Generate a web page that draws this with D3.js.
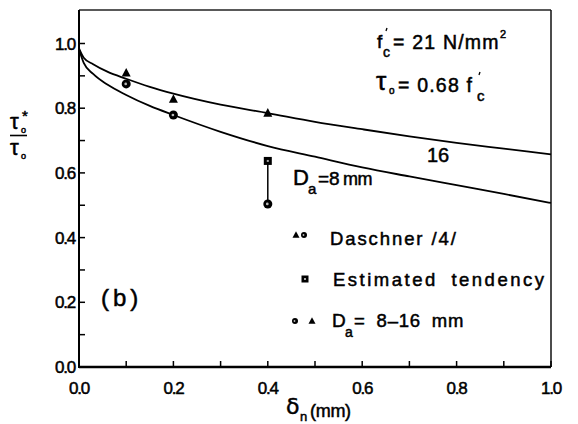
<!DOCTYPE html>
<html>
<head>
<meta charset="utf-8">
<script src="https://cdn.jsdelivr.net/npm/d3@7"></script>
<style>
  html, body { margin: 0; padding: 0; background: #fff; }
  svg { display: block; }
  text { font-family: "Liberation Sans", Arial, sans-serif; fill: #000; stroke: #000; stroke-width: 0.5; }
  .greek { font-family: "DejaVu Sans", sans-serif; }
</style>
</head>
<body>
<svg id="chart" width="578" height="424"></svg>
<script>
// Axis ticks
const xMajorTicks = [0, 0.2, 0.4, 0.6, 0.8, 1.0];
const xMinorTicks = [0.1, 0.3, 0.5, 0.7, 0.9];
const xTickLabels = ["0.0", "0.2", "0.4", "0.6", "0.8", "1.0"];
const yMajorTicks = [0, 0.2, 0.4, 0.6, 0.8, 1.0];
const yMinorTicks = [0.1, 0.3, 0.5, 0.7, 0.9];
const yTickLabels = ["0.0", "0.2", "0.4", "0.6", "0.8", "1.0"];

// Tendency curves (slip δn in mm -> τo*/τo), for Da = 16 mm and Da = 8 mm
const curveX  = [0, 0.01, 0.03, 0.06, 0.1, 0.15, 0.2, 0.3, 0.4, 0.5, 0.6, 0.7, 0.8, 0.9, 1.0];
const curve16 = [0.985, 0.956, 0.936, 0.913, 0.891, 0.866, 0.845, 0.811, 0.785, 0.758, 0.735, 0.713, 0.693, 0.675, 0.657];
const curve8  = [0.982, 0.940, 0.906, 0.873, 0.841, 0.807, 0.779, 0.727, 0.683, 0.650, 0.617, 0.589, 0.562, 0.535, 0.507];

// Test results, Daschner /4/
const triX = [0.1, 0.2, 0.4];
const triY = [0.909, 0.828, 0.785];   // Da = 16 mm
const cirX = [0.1, 0.2, 0.4];
const cirY = [0.875, 0.779, 0.504];   // Da = 8 mm
// Estimated tendency
const sqX = [0.4];
const sqY = [0.637];

const svg = d3.select("#chart");
const x = d3.scaleLinear().domain([0, 1]).range([79, 551]);
const y = d3.scaleLinear().domain([0, 1]).range([367, 43.5]);
const yTop = 10;

// Frame
svg.append("line").attr("x1", x(0)).attr("x2", x(1)).attr("y1", yTop).attr("y2", yTop)
  .attr("stroke", "#222").attr("stroke-width", 1.3);
svg.append("line").attr("x1", x(1)).attr("x2", x(1)).attr("y1", yTop).attr("y2", y(0))
  .attr("stroke", "#111").attr("stroke-width", 1.5);

// Axes with inward ticks
const tickLen = 6;
const xAxis = svg.append("g");
xAxis.append("line").attr("x1", x(0)).attr("x2", x(1)).attr("y1", y(0)).attr("y2", y(0))
  .attr("stroke", "#000").attr("stroke-width", 2.6);
xAxis.selectAll("line.tk").data(xMajorTicks.concat(xMinorTicks)).join("line")
  .attr("class", "tk")
  .attr("x1", d => x(d)).attr("x2", d => x(d))
  .attr("y1", y(0)).attr("y2", y(0) - tickLen)
  .attr("stroke", "#000").attr("stroke-width", 1.5);
xAxis.selectAll("text").data(xMajorTicks).join("text")
  .attr("x", d => x(d)).attr("y", 394)
  .attr("text-anchor", "middle")
  .attr("font-size", 17).attr("letter-spacing", -1.2)
  .text((d, i) => xTickLabels[i]);

const yAxis = svg.append("g");
yAxis.append("line").attr("x1", x(0)).attr("x2", x(0)).attr("y1", yTop).attr("y2", y(0) + 1)
  .attr("stroke", "#000").attr("stroke-width", 2);
yAxis.selectAll("line.tk").data(yMajorTicks.concat(yMinorTicks)).join("line")
  .attr("class", "tk")
  .attr("x1", x(0)).attr("x2", x(0) + tickLen)
  .attr("y1", d => y(d)).attr("y2", d => y(d))
  .attr("stroke", "#000").attr("stroke-width", 1.5);
yAxis.selectAll("text").data(yMajorTicks).join("text")
  .attr("x", 75).attr("y", d => y(d) + 6)
  .attr("text-anchor", "end")
  .attr("font-size", 17).attr("letter-spacing", -1.2)
  .text((d, i) => yTickLabels[i]);

// Curves
const line = d3.line().x(d => x(d[0])).y(d => y(d[1])).curve(d3.curveMonotoneX);
[curve16, curve8].forEach(c => {
  svg.append("path")
    .attr("d", line(curveX.map((v, i) => [v, c[i]])))
    .attr("fill", "none").attr("stroke", "#000").attr("stroke-width", 1.8);
});

// Marker helpers
function triangle(g, cx, cy, s) {
  g.append("path")
    .attr("d", `M${cx},${cy - s * 0.55}L${cx + s * 0.5},${cy + s * 0.4}L${cx - s * 0.5},${cy + s * 0.4}Z`)
    .attr("fill", "#000");
}
function dotCircle(g, cx, cy, r) {
  g.append("circle").attr("cx", cx).attr("cy", cy).attr("r", r).attr("fill", "#000");
  g.append("circle").attr("cx", cx - 0.5).attr("cy", cy).attr("r", r * 0.3).attr("fill", "#bbb");
}
function dotSquare(g, cx, cy, s) {
  g.append("rect").attr("x", cx - s / 2).attr("y", cy - s / 2).attr("width", s).attr("height", s).attr("fill", "#000");
  g.append("rect").attr("x", cx - 1).attr("y", cy - 1).attr("width", 2).attr("height", 2).attr("fill", "#aaa");
}
// Prime mark drawn as a short tick
function prime(g, px, py) {
  g.append("line").attr("x1", px + 1).attr("y1", py).attr("x2", px).attr("y2", py + 3)
    .attr("stroke", "#000").attr("stroke-width", 1.3);
}

// Link between estimated value and measured value at δn = 0.4
svg.append("line")
  .attr("x1", x(sqX[0])).attr("x2", x(sqX[0]))
  .attr("y1", y(sqY[0])).attr("y2", y(cirY[2]))
  .attr("stroke", "#000").attr("stroke-width", 1.5);

const marks = svg.append("g");
triX.forEach((v, i) => triangle(marks, x(v), y(triY[i]), 9));
cirX.forEach((v, i) => dotCircle(marks, x(v), y(cirY[i]), 4.5));
sqX.forEach((v, i) => dotSquare(marks, x(v), y(sqY[i]), 8));

// Y axis title: τo* / τo
const yt = svg.append("g");
yt.append("text").attr("x", 10).attr("y", 129).attr("font-size", 22).text("τ");
yt.append("text").attr("x", 21).attr("y", 133).attr("font-size", 9).text("o");
yt.append("text").attr("x", 22).attr("y", 121).attr("font-size", 15).text("*");
yt.append("line").attr("x1", 10).attr("x2", 27).attr("y1", 135.5).attr("y2", 135.5)
  .attr("stroke", "#000").attr("stroke-width", 1.6);
yt.append("text").attr("x", 10).attr("y", 155).attr("font-size", 22).text("τ");
yt.append("text").attr("x", 21).attr("y", 159).attr("font-size", 9).text("o");

// X axis title: δn (mm)
const xt = svg.append("g");
xt.append("text").attr("class", "greek").attr("x", 286).attr("y", 414).attr("font-size", 22).text("δ");
xt.append("text").attr("x", 300).attr("y", 421).attr("font-size", 13).text("n");
xt.append("text").attr("x", 310).attr("y", 417).attr("font-size", 18).attr("letter-spacing", -0.3).text("(mm)");

// Material annotations
const ann = svg.append("g");
ann.append("text").attr("x", 377).attr("y", 48).attr("font-size", 19).text("f");
prime(ann, 386, 28);
ann.append("text").attr("x", 383).attr("y", 57).attr("font-size", 14).text("c");
ann.append("text").attr("x", 393).attr("y", 49).attr("font-size", 19.5).attr("letter-spacing", 1.2)
  .text("= 21 N/mm");
ann.append("text").attr("x", 500).attr("y", 38).attr("font-size", 11).text("2");

ann.append("text").attr("x", 376).attr("y", 90).attr("font-size", 26).text("τ");
ann.append("text").attr("x", 389).attr("y", 94).attr("font-size", 10).text("o");
ann.append("text").attr("x", 398).attr("y", 92).attr("font-size", 19.5).attr("letter-spacing", 1.2).text("= 0.68 f");
prime(ann, 479, 72);
ann.append("text").attr("x", 477).attr("y", 101).attr("font-size", 15).text("c");

ann.append("text").attr("x", 427).attr("y", 162).attr("font-size", 20).text("16");

ann.append("text").attr("x", 293).attr("y", 185).attr("font-size", 22).text("D");
ann.append("text").attr("x", 308).attr("y", 194).attr("font-size", 15).text("a");
ann.append("text").attr("x", 318).attr("y", 185).attr("font-size", 19).text("=8");
ann.append("text").attr("x", 343).attr("y", 185).attr("font-size", 18).attr("letter-spacing", -0.5).text("mm");

// Panel tag
svg.append("text").attr("x", 101).attr("y", 306).attr("font-size", 24).attr("letter-spacing", 4).text("(b)");

// Legend
const lg = svg.append("g");
triangle(lg, 296, 235, 7);
dotCircle(lg, 304, 235, 3);
lg.append("text").attr("x", 330).attr("y", 245).attr("font-size", 18.5).attr("letter-spacing", 1.9).text("Daschner /4/");

dotSquare(lg, 305, 279, 7);
lg.append("text").attr("x", 333).attr("y", 286).attr("font-size", 18.5).attr("letter-spacing", 2.5)
  .attr("word-spacing", 6).text("Estimated tendency");

dotCircle(lg, 295, 321, 3);
triangle(lg, 312, 321, 7);
lg.append("text").attr("x", 332).attr("y", 327).attr("font-size", 19).text("D");
lg.append("text").attr("x", 345).attr("y", 337).attr("font-size", 14).text("a");
lg.append("text").attr("x", 354).attr("y", 327).attr("font-size", 18.5).attr("letter-spacing", 0.8)
  .attr("word-spacing", 5).text("= 8–16 mm");
</script>
</body>
</html>
